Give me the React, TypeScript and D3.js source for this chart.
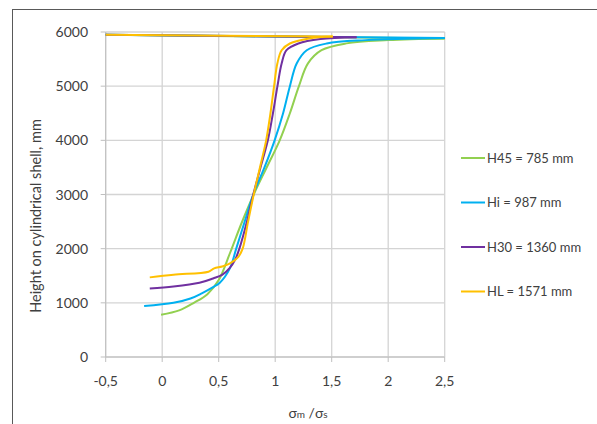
import React from 'react';
import * as d3 from 'd3';

// readings: [sigma ratio, height mm]
const h45Points: [number, number][] = [
  [-0.01, 780], [0.15, 860], [0.28, 1000], [0.4, 1160], [0.5, 1420], [0.6, 1920],
  [0.7, 2460], [0.81, 3000], [0.92, 3480], [1.04, 4000], [1.13, 4500],
  [1.21, 5000], [1.29, 5420], [1.41, 5664], [1.63, 5790], [2.0, 5850], [2.5, 5880],
];
const hiPoints: [number, number][] = [
  [-0.16, 940], [0.1, 1000], [0.25, 1080], [0.35, 1175], [0.45, 1290], [0.51, 1370],
  [0.6, 1640], [0.655, 2000], [0.73, 2500], [0.806, 3000], [0.905, 3500], [0.995, 4000],
  [1.07, 4500], [1.13, 5000], [1.19, 5418], [1.279, 5664], [1.456, 5788], [1.8, 5850],
  [2.5, 5890],
];
const h30Points: [number, number][] = [
  [-0.11, 1265], [0.1, 1300], [0.33, 1370], [0.45, 1450], [0.53, 1515], [0.6, 1650],
  [0.644, 1790], [0.683, 2000], [0.75, 2500], [0.806, 3000], [0.87, 3500], [0.935, 4000],
  [0.98, 4500], [1.02, 5000], [1.057, 5418], [1.1, 5664], [1.205, 5788], [1.4, 5870],
  [1.72, 5904],
];
const hlPoints: [number, number][] = [
  [-0.11, 1470], [0.1, 1520], [0.41, 1575], [0.46, 1636], [0.53, 1670], [0.6, 1728],
  [0.674, 1850], [0.712, 2000], [0.76, 2500], [0.81, 3000], [0.865, 3500], [0.92, 4000],
  [0.958, 4500], [0.99, 5000], [1.019, 5418], [1.057, 5664], [1.13, 5788], [1.3, 5880],
  [1.51, 5915],
];
// every series runs back along the top to the left edge
const returnPoint: [number, number] = [-0.5, 5950];

const seriesNames = ['H45 = 785 mm', 'Hi = 987 mm', 'H30 = 1360 mm', 'HL = 1571 mm'];
const seriesColors = ['#92d050', '#00b0f0', '#7030a0', '#ffc000'];
const seriesData = [h45Points, hiPoints, h30Points, hlPoints];

const xTicks = [-0.5, 0, 0.5, 1, 1.5, 2, 2.5];
const yTicks = [0, 1000, 2000, 3000, 4000, 5000, 6000];

const font = 'Lato, "Open Sans", sans-serif';
const fmt = (v: number) => String(v).replace('.', ',');

export default function App() {
  const x = d3.scaleLinear().domain([-0.5, 2.5]).range([105.7, 444.7]);
  const y = d3.scaleLinear().domain([0, 6000]).range([357, 32]);

  const curve = d3
    .line<[number, number]>()
    .x((d) => x(d[0]))
    .y((d) => y(d[1]))
    .curve(d3.curveCatmullRom.alpha(0.5));
  const straight = d3
    .line<[number, number]>()
    .x((d) => x(d[0]))
    .y((d) => y(d[1]));

  return (
    <svg
      width={597}
      height={424}
      style={{ position: 'absolute', left: 0, top: 0, background: '#fff' }}
      fontFamily={font}
    >
      <rect x={12.5} y={9.5} width={700} height={500} fill="#fff" stroke="#595959" />

      {/* grid */}
      {yTicks.map((t) => (
        <line key={'gy' + t} x1={x(-0.5)} x2={x(2.5)} y1={y(t)} y2={y(t)} stroke="#d4d4d4" strokeWidth={1.3} />
      ))}
      {xTicks.map((t) => (
        <line key={'gx' + t} x1={x(t)} x2={x(t)} y1={y(0)} y2={y(6000)} stroke="#d4d4d4" strokeWidth={1.3} />
      ))}

      {/* axes */}
      <line x1={x(-0.5)} x2={x(-0.5)} y1={y(0)} y2={y(6000)} stroke="#bfbfbf" />
      <line x1={x(-0.5)} x2={x(2.5)} y1={y(0)} y2={y(0)} stroke="#bfbfbf" />
      {xTicks.map((t) => (
        <line key={'tx' + t} x1={x(t)} x2={x(t)} y1={y(0)} y2={y(0) + 5} stroke="#bfbfbf" />
      ))}
      {yTicks.map((t) => (
        <line key={'ty' + t} x1={x(-0.5) - 5} x2={x(-0.5)} y1={y(t)} y2={y(t)} stroke="#bfbfbf" />
      ))}

      {/* tick labels */}
      {yTicks.map((t) => (
        <text key={'ly' + t} x={88} y={y(t) + 5} textAnchor="end" fontSize={14} fill="#404040">
          {t}
        </text>
      ))}
      {xTicks.map((t) => (
        <text key={'lx' + t} x={x(t)} y={386} textAnchor="middle" fontSize={14} fill="#404040">
          {fmt(t)}
        </text>
      ))}

      {/* axis titles */}
      <text
        transform="translate(41,216) rotate(-90)"
        textAnchor="middle"
        fontSize={14.5}
        fill="#404040"
      >
        Height on cylindrical shell, mm
      </text>
      <text x={308} y={418} textAnchor="middle" fontSize={14} fill="#404040">
        σ<tspan fontSize={10}>m</tspan> /σ<tspan fontSize={10}>s</tspan>
      </text>

      {/* series */}
      {seriesData.map((pts, i) => (
        <g key={seriesNames[i]} fill="none" stroke={seriesColors[i]} strokeWidth={2}>
          <path d={curve(pts) || ''} />
          <path d={straight([pts[pts.length - 1], returnPoint]) || ''} />
        </g>
      ))}

      {/* legend */}
      {seriesNames.map((name, i) => {
        const ly = 158 + i * 44.5;
        return (
          <g key={'lg' + name}>
            <line x1={461} x2={485} y1={ly} y2={ly} stroke={seriesColors[i]} strokeWidth={2} />
            <text x={487} y={ly + 4.5} fontSize={13} fill="#404040">
              {name}
            </text>
          </g>
        );
      })}
    </svg>
  );
}
